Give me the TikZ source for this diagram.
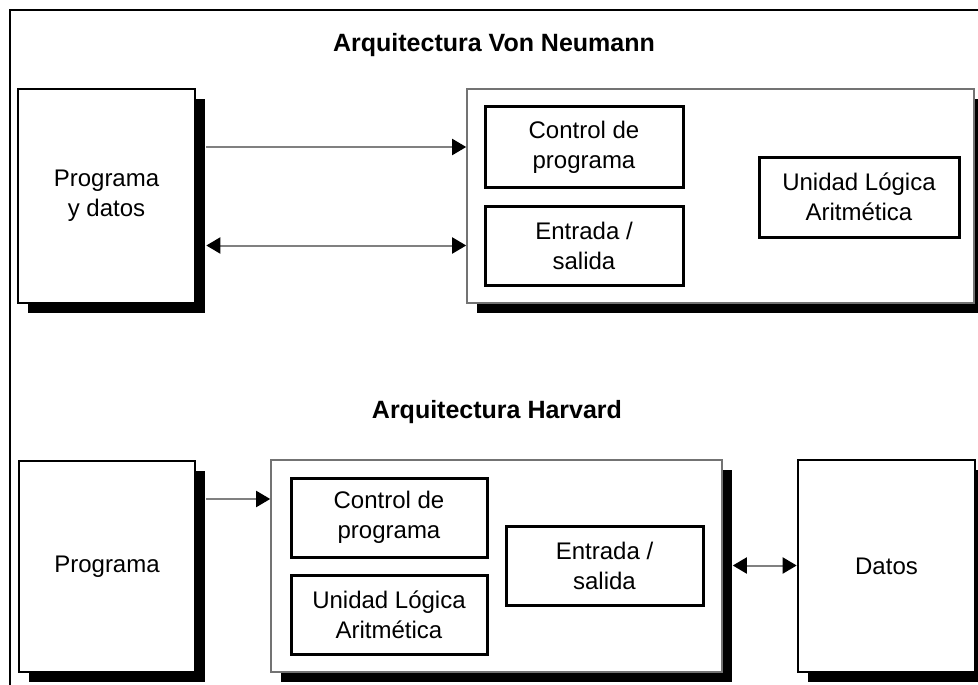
\documentclass[tikz,border=0pt]{standalone}
\usepackage{fontspec}
\setmainfont{Liberation Sans}
\usetikzlibrary{arrows.meta,shadows}
\begin{document}
\begin{tikzpicture}[x=1pt,y=-1pt,
  every node/.style={font=\fontsize{24}{30}\selectfont, align=center, inner sep=0pt},
  shadowed/.style={drop shadow={shadow xshift=10pt, shadow yshift=-10pt, fill=black, opacity=1}},
  inbox/.style={draw=black, line width=3pt, fill=white},
  shbox/.style={draw=black, line width=2.6pt, fill=white, shadowed},
  bigbox/.style={draw=black!55, line width=1.6pt, fill=white, shadowed},
  ttl/.style={font=\fontsize{25}{30}\selectfont\bfseries, anchor=base},
  conn/.style={draw=black!50, line width=2pt},
  tipr/.style={-{Triangle[length=14pt,width=16pt,color=black]}},
  tipb/.style={{Triangle[length=14pt,width=16pt,color=black]}-{Triangle[length=14pt,width=16pt,color=black]}}
]
\useasboundingbox (0,0) rectangle (978,685);
\fill[white] (0,0) rectangle (978,685);
% frame
\draw[line width=2.5pt] (10,690) -- (10,10) -- (980,10);

% ---------- Von Neumann ----------
\node[ttl] (t1) at (494,52) {Arquitectura Von Neumann};
\node[shbox, minimum width=177pt, minimum height=214pt] (pd) at (106.5,196) {Programa\\y datos};
\node[bigbox, minimum width=507pt, minimum height=214pt] (vn) at (720.5,196) {};
\node[inbox, minimum width=198pt, minimum height=80pt] (vctl) at (584,147) {Control de\\programa};
\node[inbox, minimum width=198pt, minimum height=79pt] (ves) at (584,245.5) {Entrada /\\salida};
\node[inbox, minimum width=200pt, minimum height=80pt] (vula) at (859,197) {Unidad L\'ogica\\Aritm\'etica};

\coordinate (pdr) at ([xshift=10pt]pd.east);
\draw[conn, tipr] (pdr |- vctl) -- (vn.west |- vctl);
\draw[conn, tipb] (pdr |- ves) -- (vn.west |- ves);

% ---------- Harvard ----------
\node[ttl] (t2) at (497,418) {Arquitectura Harvard};
\node[shbox, minimum width=176pt, minimum height=211pt] (prog) at (107,566.5) {Programa};
\node[bigbox, minimum width=451pt, minimum height=212pt] (hv) at (496.5,566) {};
\node[inbox, minimum width=196pt, minimum height=79pt] (hctl) at (389,517.5) {Control de\\programa};
\node[inbox, minimum width=196pt, minimum height=79pt] (hula) at (389,614.5) {Unidad L\'ogica\\Aritm\'etica};
\node[inbox, minimum width=197pt, minimum height=79pt] (hes) at (604.5,565.5) {Entrada /\\salida};
\node[shbox, minimum width=177pt, minimum height=212pt] (datos) at (886.5,566) {Datos};

\coordinate (progr) at ([xshift=10pt,yshift=67.5pt]prog.east);
\coordinate (hvr) at ([xshift=10pt]hv.east);
\draw[conn, tipr] (progr) -- (hv.west |- progr);
\draw[conn, tipb] (hvr |- hes) -- (datos.west |- hes);
\end{tikzpicture}
\end{document}
